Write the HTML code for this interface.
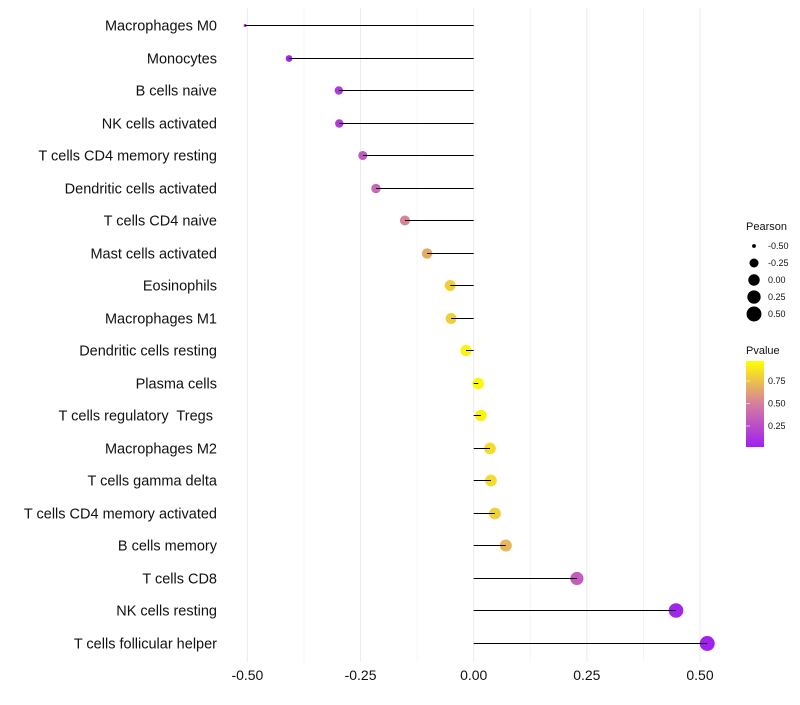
<!DOCTYPE html>
<html><head><meta charset="utf-8"><style>
body{margin:0;background:#fff;font-family:"Liberation Sans",sans-serif}
text{white-space:pre}
</style></head><body>
<svg id="chart" width="800" height="700" xmlns="http://www.w3.org/2000/svg">
<defs><linearGradient id="pg" x1="0" y1="1" x2="0" y2="0">
<stop offset="0" stop-color="#A020F0"/><stop offset="0.5" stop-color="#D67DA0"/><stop offset="1" stop-color="#FFFF00"/></linearGradient></defs>
<g id="grid"></g><g id="dots"></g><g id="marks"></g><g id="ylabels"></g><g id="xticks"></g>
<g id="legend"></g>
</svg>
<script>
const categories=["Macrophages M0","Monocytes","B cells naive","NK cells activated","T cells CD4 memory resting","Dendritic cells activated","T cells CD4 naive","Mast cells activated","Eosinophils","Macrophages M1","Dendritic cells resting","Plasma cells","T cells regulatory  Tregs ","Macrophages M2","T cells gamma delta","T cells CD4 memory activated","B cells memory","T cells CD8","NK cells resting","T cells follicular helper"];
const pearson=[-0.505,-0.408,-0.298,-0.297,-0.245,-0.216,-0.152,-0.103,-0.052,-0.050,-0.017,0.010,0.016,0.036,0.038,0.047,0.071,0.228,0.447,0.516];
const pvalue=[0.001,0.02,0.15,0.15,0.3,0.38,0.52,0.68,0.82,0.82,0.95,0.97,0.95,0.87,0.86,0.82,0.72,0.32,0.02,0.01];
const xTicks=[-0.5,-0.25,0,0.25,0.5];
const xTickLabels=["-0.50","-0.25","0.00","0.25","0.50"];
const sizeLegend=[-0.5,-0.25,0,0.25,0.5];
const sizeLegendLabels=["-0.50","-0.25","0.00","0.25","0.50"];
const pTicks=[0.25,0.5,0.75];
const pTickLabels=["0.25","0.50","0.75"];

const NS="http://www.w3.org/2000/svg";
const x=v=>473.7+v*452.6;
const y=i=>25.5+Math.round(i*32.5);
const minV=Math.min(...pearson),maxV=Math.max(...pearson);
const r=v=>1.5+6*Math.sqrt(Math.max(0,(v-minV)/(maxV-minV)));
function lerp(a,b,t){return Math.round(a+(b-a)*t);}
function col(p){const s=[[160,32,240],[214,125,160],[255,255,0]];let t=p*2,i=0;if(t>1){i=1;t-=1;}
const a=s[i],b=s[i+1];return `rgb(${lerp(a[0],b[0],t)},${lerp(a[1],b[1],t)},${lerp(a[2],b[2],t)})`;}
function mk(tag,attrs,parent){const e=document.createElementNS(NS,tag);for(const k in attrs)e.setAttribute(k,attrs[k]);document.getElementById(parent).appendChild(e);return e;}

for(let k=0;k<xTicks.length;k++){
  const g=mk("line",{x1:x(xTicks[k]),x2:x(xTicks[k]),y1:8,y2:662,stroke:"#ebebeb","stroke-width":1},"grid");
  
  
  if(k<xTicks.length-1){const m=(xTicks[k]+xTicks[k+1])/2;
    const g2=mk("line",{x1:x(m),x2:x(m),y1:8,y2:662,stroke:"#f3f3f3","stroke-width":0.8},"grid");
    
    }
  const t=mk("text",{x:x(xTicks[k]),y:680,"text-anchor":"middle","font-size":14,fill:"#111"},"xticks");
  t.textContent=xTickLabels[k];
  
  
}
categories.forEach((c,i)=>{
  const d=mk("circle",{cx:x(pearson[i]),cy:y(i),r:r(pearson[i]),fill:col(pvalue[i])},"dots");
  
  
  const l=mk("line",{x1:x(0),x2:x(pearson[i]),y1:y(i),y2:y(i),stroke:"#000","stroke-width":1},"marks");
  
  
  const t=mk("text",{x:217,y:y(i)+5,"text-anchor":"end","font-size":14.5,fill:"#111"},"ylabels");
  t.textContent=c;
  
  
});
// legend
let t=mk("text",{x:746,y:230,"font-size":11,fill:"#111"},"legend");t.textContent="Pearson";


sizeLegend.forEach((v,k)=>{const cy=246+k*17;
  const c=mk("circle",{cx:754,cy:cy,r:Math.min(7.5,r(v)),fill:"#000"},"legend");
  
  
  const tt=mk("text",{x:768,y:cy+3,"font-size":9,fill:"#111"},"legend");tt.textContent=sizeLegendLabels[k];
  
  
});
t=mk("text",{x:746,y:354,"font-size":11,fill:"#111"},"legend");t.textContent="Pvalue";


const bar=mk("rect",{x:746,y:361,width:18,height:86,fill:"url(#pg)"},"legend");


const py=p=>448.5-p*90;
pTicks.forEach((p,k)=>{
  const tt=mk("text",{x:768,y:py(p)+3,"font-size":9,fill:"#111"},"legend");tt.textContent=pTickLabels[k];
  
  
  const tk=mk("line",{x1:746,x2:750,y1:py(p),y2:py(p),stroke:"#fff","stroke-width":0.6},"legend");
  
  
});
</script>
</body></html>
